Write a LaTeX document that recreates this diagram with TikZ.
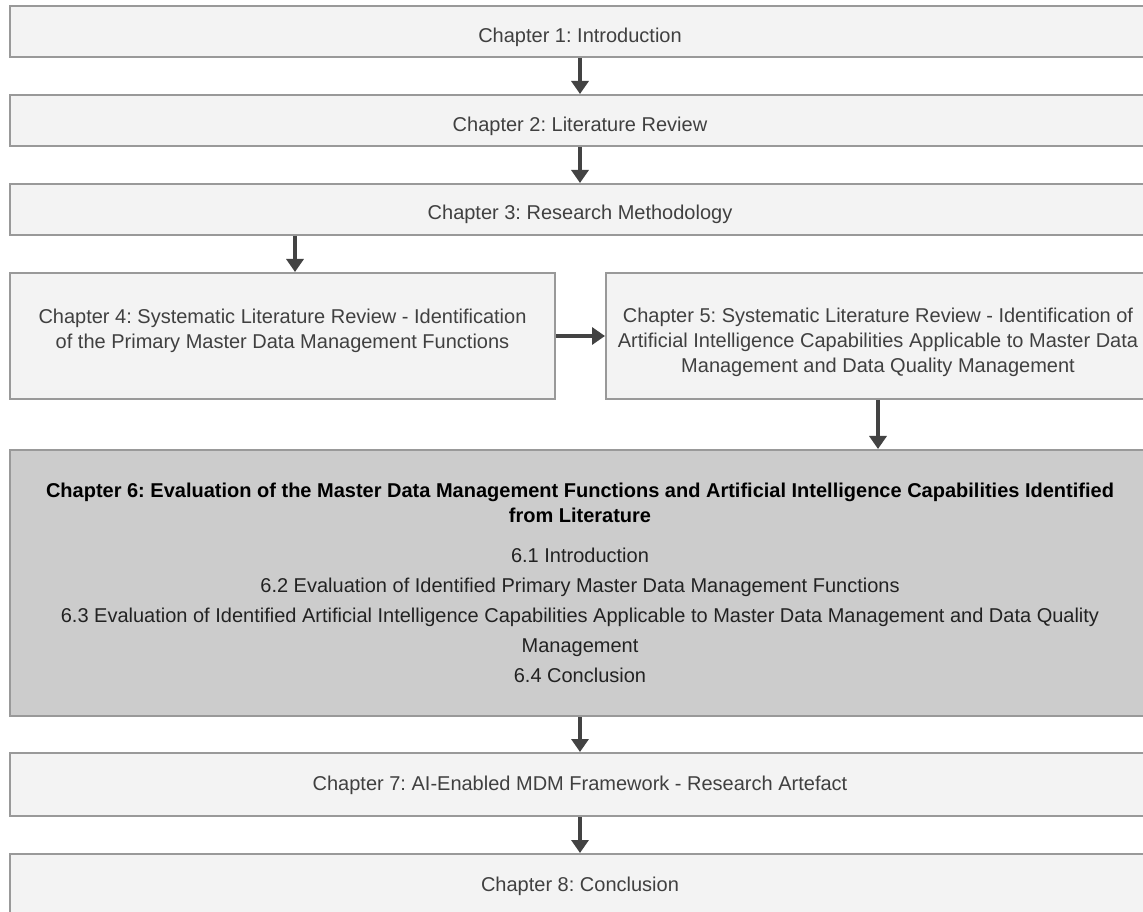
\documentclass[tikz,border=0pt]{standalone}
\usepackage{fontspec}
\setmainfont{Liberation Sans}
\frenchspacing
\usetikzlibrary{arrows.meta,calc}
\definecolor{boxfill}{HTML}{F3F3F3}
\definecolor{boxdraw}{HTML}{999999}
\definecolor{darkfill}{HTML}{CCCCCC}
\definecolor{arrowc}{HTML}{434343}
\definecolor{txt}{HTML}{404040}
\definecolor{txtsix}{HTML}{222222}
\begin{document}
\begin{tikzpicture}[x=0.75pt,y=-0.75pt,
  chbox/.style={draw=boxdraw, fill=boxfill, line width=1.5pt, inner sep=0pt,
    minimum width=855pt},
  chtext/.style={inner sep=0pt, align=center, text=txt,
    font=\fontsize{15}{18.75}\selectfont},
  arr/.style={draw=arrowc, line width=3pt,
    -{Triangle[width=12.75pt,length=9.75pt]}}]
\useasboundingbox (0,0) rectangle (1143,912);
\fill[white] (0,0) rectangle (1143,912);
\clip (0,0) rectangle (1143,912);

% boxes
\node[chbox, minimum height=38.25pt] (c1) at (580,31.5) {};
\node[chbox, minimum height=38.25pt] (c2) at (580,120.5) {};
\node[chbox, minimum height=38.25pt] (c3) at (580,209.5) {};
\node[chbox, minimum width=408.75pt, minimum height=94.5pt] (c4) at (282.5,336) {};
\node[chbox, minimum width=408pt, minimum height=94.5pt] (c5) at (878,336) {};
\node[chbox, fill=darkfill, minimum height=199.5pt] (c6) at (580,583) {};
\node[chbox, minimum height=47.25pt] (c7) at (580,784.5) {};
\node[chbox, minimum height=46.5pt] (c8) at (580,885) {};

% texts
\node[chtext] (t1) at ([yshift=-4.5pt]c1.center) {Chapter 1: Introduction};
\node[chtext] (t2) at ([yshift=-4.5pt]c2.center) {Chapter 2: Literature Review};
\node[chtext] (t3) at ([yshift=-4pt]c3.center) {Chapter 3: Research Methodology};
\node[chtext] (t4) at ([yshift=3.75pt]c4.center)
  {Chapter 4: Systematic Literature Review - Identification\\of the Primary Master Data Management Functions};
\node[chtext] (t5) at ([yshift=-4.5pt]c5.center)
  {Chapter 5: Systematic Literature Review - Identification of\\Artificial Intelligence Capabilities Applicable to Master Data\\Management and Data Quality Management};
\node[chtext, text=txtsix] (t6) at (c6.center)
  {\textcolor{black}{\bfseries Chapter 6: Evaluation of the Master Data Management Functions and Artificial Intelligence Capabilities Identified}\\
   \textcolor{black}{\bfseries from Literature}\\[11.25pt]
   6.1 Introduction\\[3.75pt]
   6.2 Evaluation of Identified Primary Master Data Management Functions\\[3.75pt]
   6.3 Evaluation of Identified Artificial Intelligence Capabilities Applicable to Master Data Management and Data Quality\\[3.75pt]
   Management\\[3.75pt]
   6.4 Conclusion};
\node[chtext] (t7) at ([yshift=-0.75pt]c7.center) {Chapter 7: AI-Enabled MDM Framework - Research Artefact};
\node[chtext] (t8) at ([yshift=-0.75pt]c8.center) {Chapter 8: Conclusion};

% connectors
\coordinate (a34) at (295,0);
\draw[arr] (c1.south) -- (c2.north);
\draw[arr] (c2.south) -- (c3.north);
\draw[arr] (c3.south -| a34) -- (c4.north -| a34);
\draw[arr] (c4.east) -- (c5.west);
\draw[arr] (c5.south) -- (c5.south |- c6.north);
\draw[arr] (c6.south) -- (c7.north);
\draw[arr] (c7.south) -- (c8.north);
\end{tikzpicture}
\end{document}
